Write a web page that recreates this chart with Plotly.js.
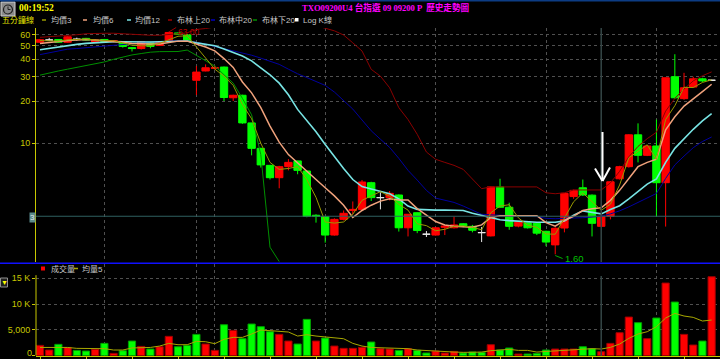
<!DOCTYPE html>
<html><head><meta charset="utf-8">
<script src="https://cdn.plot.ly/plotly-3.0.1.min.js"></script>
<style>html,body{margin:0;padding:0;background:#000;}#chart{width:720px;height:359px;}</style>
</head><body><div id="chart"></div>
<script>
// ---- data (5-minute bars) ----
const openP  = [53,55,55.5,53,55.7,56.5,53,55.5,53.5,53, 48.5,47.8,53,50.3,54.3,61.8,60,28.3,33,34.5,
  35.2,21.2,22.1,14.0,9.2,6.95,5.67,6.8,7.48,6.33, 3.05,2.98,2.2,2.85,3.3,3.36,5.22,4.08,4.08,4.26,
  2.48,3.18,2.23,2.2,2.5,2.48,2.65,2.54,2.29,2.17, 4.87,3.48,2.55,2.69,2.67,2.34,1.87,2.47,4.15,4.8,
  4.25,2.54,3.0,5.57,6.8,11.5,8.2,9.57,5.22,30, 20.9,25.3,29,28.3];
const highP  = [56,57,55.8,58.5,57.2,57,55.5,56,55,53.5, 49,54,53.5,54,63,62.5,60.5,35.8,36.8,36,
  35.5,22.3,22.3,14.0,9.3,7.0,6.9,7.7,7.5,6.4, 3.1,3.0,2.9,3.3,3.83,5.46,5.3,4.45,4.55,4.3,
  3.1,3.2,2.35,2.5,2.57,2.98,2.68,2.6,2.51,4.9, 5.57,3.75,2.76,2.7,2.7,2.36,2.5,4.4,4.65,5.5,
  4.3,3.05,5.35,6.9,11.6,13.9,9.6,14.8,29.6,43.5, 32,30,29.5,28.6];
const lowP   = [52.5,54.3,52.8,52.5,54.4,54.5,52.5,53,53,48.5, 45.5,47,48,50,54,60,54,22.2,32.8,33.8,
  20.1,20.1,13.8,8.2,6.7,5.5,4.76,6.4,6.0,2.95, 2.7,1.94,2.18,2.8,3.1,3.3,3.86,3.36,3.9,2.33,
  2.15,2.27,2.13,2.18,2.2,2.45,2.5,2.3,1.96,2.15, 3.45,2.4,2.5,2.45,2.2,1.83,1.6,2.3,4.0,4.2,
  2.15,2.5,2.85,5.5,6.7,7.3,8.1,2.98,2.53,20.8, 20.5,25,27.5,28.0];
const closeP = [55.3,55,53,58,55.7,55,55,53.5,54.5,49.5, 47.8,53.5,49.5,53.6,62.3,60.5,54.5,32.4,34.8,34.8,
  21.3,22.1,14.0,9.2,7.0,5.67,6.8,7.3,6.4,2.99, 3.0,2.2,2.85,3.15,3.36,5.28,4.08,4.08,4.38,2.48,
  3.1,2.37,2.23,2.48,2.55,2.6,2.54,2.38,2.29,4.87, 3.48,2.54,2.74,2.48,2.27,1.96,2.46,4.38,4.6,4.26,
  2.67,3.0,5.3,6.8,11.5,8.2,9.57,5.22,29.5,21.2, 25,29,28,28.3];

const ma3 = [54.5,54.5,54,55,55.3,56,55,54.5,54.3,52.5, 50.5,50,50,52,55,58.5,59,49,40.5,34,
  30.3,26,19,15,10,7.3,6.5,6.6,6.8,5.5, 4.1,2.73,2.68,2.73,3.1,3.9,4.2,4.5,4.18,3.65,
  3.32,2.65,2.57,2.36,2.42,2.54,2.56,2.5,2.4,3.18, 3.55,3.63,2.92,2.59,2.5,2.24,2.23,2.93,3.81,4.41,
  3.84,3.31,3.66,5.03,7.87,8.83,9.76,7.66,14.8,18.6, 25.2,25.1,27.3,28.5];
const ma6 = [52,53,53.5,54.5,55,55.5,55,54.5,54,53, 52,51.5,51.5,51.5,52.5,54,54,51.5,49,46,
  40.5,35,27.5,23,18,13.3,10.2,8.3,7.2,6.3, 5.5,4.8,4.2,3.6,2.94,3.3,3.6,3.85,4.0,3.92,
  3.92,3.4,3.05,2.75,2.6,2.54,2.52,2.5,2.6,2.94, 3.03,3.03,3.03,3.03,3.03,2.7,2.55,2.8,3.0,3.3,
  3.4,3.45,3.9,4.6,5.6,6.8,7.3,7.7,12.5,15.5, 18.5,21,23.5,26.5];
const ma12 = [46.8,48,49.2,50.2,51.2,52,52.7,53.3,53.6,53.5, 53.3,53.2,53.2,53.4,53.8,54.2,54.1,52.5,51.4,50,
  47.5,45,42.3,39,35,31,27,22.3,17.5,14.5, 12.1,9.8,8.0,6.6,5.5,4.9,4.7,4.55,4.35,4.0,
  3.55,3.36,3.33,3.32,3.33,3.33,3.3,3.15,3.03,2.93, 2.83,2.79,2.76,2.73,2.72,2.72,2.72,2.78,3.05,3.28,
  3.18,3.12,3.35,3.57,4.0,4.5,5.1,5.55,7.3,9.2, 10.8,12.6,14.5,16.3];
const bollUp = [57.5,58,58.5,59,60,61,61.5,61.5,61.5,61, 60,59.5,59.5,59.5,60,61,62,65.5,66.5,68,
  70,73,77,80,82,82,81,79,76,73, 70,66.8,64,59.7,52.5,45.9,33.9,30.3,25,18,
  14.8,11.6,8.66,7.68,7.3,6.95,6.5,5.5,4.73,4.87, 4.87,4.87,4.87,4.87,4.87,4.42,4.35,4.42,4.63,4.63,
  4.63,4.63,5.2,6.3,8.0,9.5,10.8,12.0,17,21, 24.5,28,30.5,32.5];
const bollMid = [43.2,44.5,46.0,47.3,47.8,48.5,49.1,49.8,50.6,51.3, 52,52.6,53.1,53.6,54.1,54.3,54.3,53.2,51.5,49.4,
  47.8,45.8,44.3,42.8,40.8,38.7,36.8,34,31.5,29.6, 27.9,26,23.3,20.3,17.6,14.7,12.3,10.7,9.35,7.8,
  6.4,5.45,4.6,4.05,3.9,3.77,3.55,3.3,3.1,3.07, 3.05,3.03,3.0,3.0,2.98,2.9,2.88,2.9,2.9,2.93,
  2.96,3.0,3.12,3.28,3.5,3.78,4.1,4.37,5.6,7.0, 8.1,9.3,10.3,11.1];
const bollLow = [30.8,32,33,34,35,36,37.5,38.3,40,41.7, 43,44,45,45.4,45.6,45.5,46.6,42.5,39.2,35.8,
  31,27,21,16,8.3,1.8,1.42,null,null,null, null,null,null,null,null,null,null,null,null,null,
  null,null,null,null,null,null,null,null,null,null, null,null,null,null,null,null,null,null,null,null,
  null,null,null,null,null,null,null,null,null,null, null,null,null,null];

const volume = [2000,1100,2200,1600,1030,900,1230,2390,450,970, 2840,1800,1290,1740,3750,1740,2000,4130,2260,1030,
  6000,4900,3300,6140,5620,4650,4130,2840,2260,7040, 2840,3420,1870,1420,1420,1615,2650,1360,1290,1030,
  1360,1030,520,900,520,840,520,710,650,2130, 1100,1490,320,320,450,1100,1290,1290,1290,1740,
  1360,780,2390,4460,7490,6400,3300,7300,14080,10400, 4130,2070,2840,15300];
const volUp = [1,1,0,1,0,0,1,0,1,0, 0,1,0,1,1,0,0,0,1,1, 0,1,0,0,0,0,1,1,0,0,
  1,0,1,1,1,1,0,1,1,0, 1,0,0,1,1,1,0,0,0,1, 0,0,1,0,0,0,1,1,1,0,
  0,1,1,1,1,0,1,0,1,0, 1,1,0,1];
const volMA5 = [1600,1600,1600,1600,1420,1400,1360,1360,1100,1100, 1500,1600,1600,1870,2390,2130,2130,2780,2710,2330,
  3170,3550,3550,4200,4970,4850,4720,4590,3810,4070, 3810,3680,3550,3290,2390,1870,1600,1550,1550,1500,
  1360,1100,970,900,840,710,650,650,700,970, 1030,1230,1030,1030,710,840,970,1030,1230,1360,
  1360,1290,1610,2260,3360,4200,4650,5620,7300,8200, 7690,7430,6720,6910];

const priceTicks = [10,20,30,40,50,60];
const volTickVals = [0,5000,10000,15000];
const volTickText = ['','5,000','10 K','15 K'];
const volZeroLabel = '0';
const timeGrid = [7,17,19,31,43,55,67];
const crossIdx = 61;
const refLevel = 3;
const maxHigh = 63.00, maxIdx = 14;
const minLow = 1.60, minIdx = 56;

// ---- build ----
const idx = openP.map((_, i) => i);
const isDoji = openP.map((o, i) => o === closeP[i]);
const sel = (arr, want) => arr.filter((_, i) => isDoji[i] === want);

const RED = '#ff0000', GRN = '#00ff00';
const F = 'Liberation Sans, Noto Sans CJK TC, sans-serif';
const FS = 'Liberation Serif, Noto Sans CJK TC, serif';
const YEL = '#c8c800';
const GRID = '#505050';

const traces = [
  {type:'candlestick', x: sel(idx,false), open: sel(openP,false), high: sel(highP,false), low: sel(lowP,false), close: sel(closeP,false),
   xaxis:'x', yaxis:'y', whiskerwidth:0, hoverinfo:'skip',
   increasing:{line:{color:RED,width:1}, fillcolor:RED}, decreasing:{line:{color:GRN,width:1}, fillcolor:GRN}},
  {type:'candlestick', x: sel(idx,true), open: sel(openP,true), high: sel(highP,true), low: sel(lowP,true), close: sel(closeP,true),
   xaxis:'x', yaxis:'y', whiskerwidth:0, hoverinfo:'skip',
   increasing:{line:{color:'#e8e8e8',width:1}, fillcolor:'#e8e8e8'}, decreasing:{line:{color:'#e8e8e8',width:1}, fillcolor:'#e8e8e8'}},
  {type:'scatter', mode:'lines', x: idx, y: bollLow, line:{color:'#009000', width:1}, xaxis:'x', yaxis:'y', hoverinfo:'skip'},
  {type:'scatter', mode:'lines', x: idx, y: bollMid, line:{color:'#0000a0', width:1}, xaxis:'x', yaxis:'y', hoverinfo:'skip'},
  {type:'scatter', mode:'lines', x: idx, y: bollUp, line:{color:'#8b0000', width:1}, xaxis:'x', yaxis:'y', hoverinfo:'skip'},
  {type:'scatter', mode:'lines', x: idx, y: ma12, line:{color:'#78e4e4', width:1.6}, xaxis:'x', yaxis:'y', hoverinfo:'skip'},
  {type:'scatter', mode:'lines', x: idx, y: ma6, line:{color:'#f0a27c', width:1.5}, xaxis:'x', yaxis:'y', hoverinfo:'skip'},
  {type:'scatter', mode:'lines', x: idx, y: ma3, line:{color:'#9a9a00', width:1}, xaxis:'x', yaxis:'y', hoverinfo:'skip'},
  {type:'bar', x: idx, y: volume, width:0.78, xaxis:'x2', yaxis:'y2', hoverinfo:'skip',
   marker:{color: volUp.map(u => u ? RED : GRN), line:{color: volUp.map(u => u ? '#a00000' : '#00a000'), width:1}}},
  {type:'scatter', mode:'lines', x: idx, y: volMA5, line:{color:'#a8a800', width:1}, xaxis:'x2', yaxis:'y2', hoverinfo:'skip'}
];

const PX = x => (x - 36) / 684;
const PY = y => 1 - y / 359;
const xr = [-0.435, 73.91];

const ann = [];
const shapes = [];
function txt(x, y, t, color, size, opts) {
  ann.push(Object.assign({xref:'paper', yref:'paper', x:PX(x), y:PY(y), text:t, showarrow:false,
    xanchor:'left', yanchor:'middle', font:{color:color, size:size, family:F}}, opts || {}));
}
function pline(x0,y0,x1,y1,color,w) {
  shapes.push({type:'line', xref:'paper', yref:'paper', x0:PX(x0), y0:PY(y0), x1:PX(x1), y1:PY(y1), line:{color:color, width:w}});
}

// header
shapes.push({type:'rect', xref:'paper', yref:'paper', x0:PX(1), x1:PX(15), y0:PY(16), y1:PY(2), fillcolor:'#8a8a8a', line:{color:'#d0d0d0', width:1}});
shapes.push({type:'circle', xref:'paper', yref:'paper', x0:PX(3.5), x1:PX(12.5), y0:PY(14), y1:PY(5), line:{color:'#202020', width:1.2}});
pline(8,9.5,8,6.5,'#202020',1); pline(8,9.5,10.5,9.5,'#202020',1);
txt(17, 8, '<b>00:19:52</b>', '#ffff00', 9.5, {font:{color:'#ffff00', size:9.5, family:FS}});
txt(300, 7.5, '<b>TXO09200U4 台指選 09 09200 P  歷史走勢圖</b>', '#ff00ff', 8.6, {font:{color:'#ff00ff', size:8.6, family:FS}});
pline(0, 0.8, 720, 0.8, '#0c3c84', 1.6);

// legend row
txt(0, 20, '五分鐘線', '#e0e000', 8);
const legendItems = [
  {t:'均價3', c:'#9a9a00', dx:42, tx:49},
  {t:'均價6', c:'#f0a27c', dx:83, tx:91},
  {t:'均價12', c:'#78e4e4', dx:127, tx:133},
  {t:'布林上20', c:'#a00000', dx:168, tx:175},
  {t:'布林中20', c:'#0000c0', dx:211, tx:217},
  {t:'布林下20', c:'#009000', dx:253, tx:260},
];
legendItems.forEach(it => { pline(it.dx, 20, it.dx+4, 20, it.c, 1.5); txt(it.tx, 20, it.t, '#c8c8c8', 8); });
shapes.push({type:'rect', xref:'paper', yref:'paper', x0:PX(295), x1:PX(298.5), y0:PY(21.5), y1:PY(18), fillcolor:'#ffffff', line:{width:0}});
txt(301, 20, 'Log K線', '#c8c8c8', 8);

// main panel decorations
shapes.push({type:'line', xref:'paper', yref:'y', x0:0, x1:1, y0:refLevel, y1:refLevel, line:{color:'#2f6060', width:1}});
ann.push({xref:'paper', yref:'paper', x:PX(32.8), y:PY(217.3), text:'3', showarrow:false, xanchor:'center', yanchor:'middle',
  bgcolor:'#5b8b8b', borderpad:0, font:{color:'#e8e8e8', size:8, family:F}});
shapes.push({type:'line', xref:'x', yref:'paper', x0:crossIdx, x1:crossIdx, y0:PY(262), y1:PY(28), line:{color:'#344646', width:1.5}});
shapes.push({type:'line', xref:'x2', yref:'paper', x0:crossIdx, x1:crossIdx, y0:PY(356), y1:PY(276), line:{color:'#344646', width:1.5}});
// arrow
pline(602.5, 132, 602.5, 180.5, '#ffffff', 2);
pline(595, 168.5, 602.5, 181, '#ffffff', 2);
pline(610, 167.5, 602.5, 181, '#ffffff', 2);
// max / min labels
shapes.push({type:'line', xref:'x', yref:'paper', x0:maxIdx, x1:maxIdx+0.8, y0:PY(32), y1:PY(27.5), line:{color:'#a00000', width:1}});
ann.push({xref:'x', yref:'paper', x:maxIdx+0.85, y:PY(26.3), text:maxHigh.toFixed(2), showarrow:false, xanchor:'left', yanchor:'top',
  borderpad:0, font:{color:'#b80000', size:8.5, family:F}});
shapes.push({type:'line', xref:'x', yref:'paper', x0:minIdx, x1:minIdx+0.8, y0:PY(255.5), y1:PY(258.5), line:{color:'#00b000', width:1}});
ann.push({xref:'x', yref:'paper', x:minIdx+0.85, y:PY(258), text:minLow.toFixed(2), showarrow:false, xanchor:'left', yanchor:'middle',
  font:{color:'#00c000', size:9.5, family:F}});

// separator
pline(0, 263.3, 720, 263.3, '#1010ff', 1.5);

// volume panel legend
shapes.push({type:'rect', xref:'paper', yref:'paper', x0:PX(41), x1:PX(45), y0:PY(270.5), y1:PY(266.5), fillcolor:'#ff0000', line:{width:0}});
txt(49, 268.5, '成交量', '#c8c8c8', 8);
pline(74, 268.5, 78, 268.5, '#a8a800', 1.5);
txt(80, 268.5, '均量5', '#c8c8c8', 8);
shapes.push({type:'rect', xref:'paper', yref:'paper', x0:PX(0.5), x1:PX(7.5), y0:PY(287), y1:PY(278), fillcolor:'#202020', line:{color:'#909090', width:1}});
ann.push({xref:'paper', yref:'paper', x:PX(4), y:PY(282.5), text:'▼', showarrow:false, xanchor:'center', yanchor:'middle', font:{color:'#ffff00', size:7, family:F}});
// volume "0" label kept inside the picture
ann.push({xref:'paper', yref:'paper', x:PX(32.5), y:PY(358.6), text:volZeroLabel, showarrow:false, xanchor:'right', yanchor:'bottom',
  borderpad:0, font:{color:YEL, size:9, family:F}});
// volume y axis line
shapes.push({type:'line', xref:'paper', yref:'y2', x0:0, x1:0, y0:0, y1:15600, line:{color:YEL, width:1}});

const gridAx = {showgrid:true, gridcolor:GRID, griddash:'3px,3px', gridwidth:1, zeroline:false};

const layout = {
  width:720, height:359, margin:{l:36, r:0, t:0, b:0},
  paper_bgcolor:'#000000', plot_bgcolor:'#000000', showlegend:false,
  boxmode:'overlay', boxgap:0.2, boxgroupgap:0,
  xaxis: Object.assign({domain:[0,1], range:xr, anchor:'y', rangeslider:{visible:false}, tickmode:'array', tickvals:timeGrid,
    showticklabels:false, ticks:'', showline:false, fixedrange:true}, gridAx),
  yaxis: Object.assign({domain:[PY(262), PY(28)], type:'log', range:[Math.log10(1.41), Math.log10(67.07)], tickmode:'array',
    tickvals:priceTicks, ticktext:priceTicks.map(String), tickfont:{color:YEL, size:9, family:F}, ticks:'outside', ticklen:3, tickcolor:YEL,
    showline:true, linecolor:YEL, linewidth:1, anchor:'x'}, gridAx),
  xaxis2: Object.assign({domain:[0,1], range:xr, anchor:'y2', tickmode:'array', tickvals:timeGrid, showticklabels:false, ticks:'',
    showline:true, linecolor:YEL, linewidth:1,
    minor:{tickmode:'linear', tick0:0, dtick:5, ticks:'outside', ticklen:3, tickcolor:YEL, showgrid:false}}, gridAx),
  yaxis2: Object.assign({domain:[PY(355.7), PY(264)], range:[0,17771], tickmode:'array', tickvals:volTickVals, ticktext:volTickText,
    tickfont:{color:YEL, size:9, family:F}, ticks:'outside', ticklen:3, tickcolor:YEL, showline:false, anchor:'x2'}, gridAx),
  annotations: ann,
  shapes: shapes,
  bargap: 0.2
};

Plotly.newPlot('chart', traces, layout, {displayModeBar:false, staticPlot:true});
</script>
</body></html>
